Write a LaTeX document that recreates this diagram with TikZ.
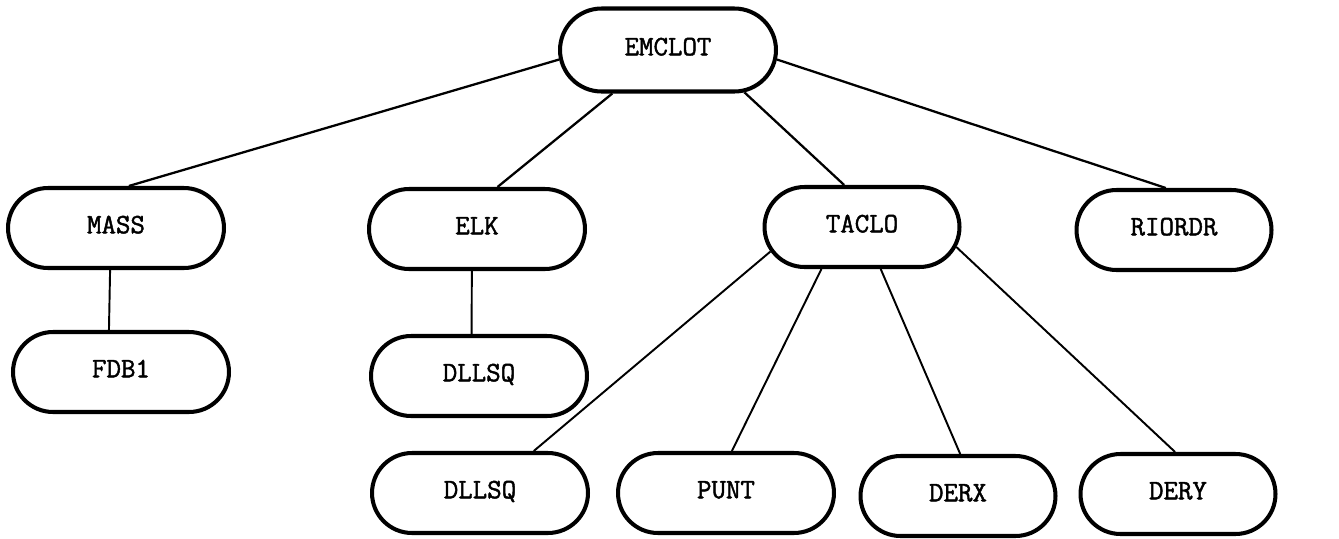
\documentclass[tikz,border=0pt]{standalone}
\usepackage{fontspec}
\setmonofont{Latin Modern Mono}[FakeBold=1.6]
\usetikzlibrary{shapes.misc}

\begin{document}
\begin{tikzpicture}[x=.02cm,y=-.02cm,font=\ttfamily\fontsize{16}{18}\selectfont,
  unit/.style={rounded rectangle,draw,line width=2.3pt,minimum width=4.32cm,
    minimum height=1.6cm,inner sep=0pt,text height=.6em,text depth=0pt},
  narrow/.style={minimum width=3.9cm},
  call/.style={line width=1.1pt}]
\path[use as bounding box] (0,0) rectangle (1339,538);
% main program
\node[unit,minimum height=1.66cm] (emclot) at (668,50) {EMCLOT};
% routines called from EMCLOT
\node[unit] (mass) at (116,228) {MASS};
\node[unit] (elk) at (477,229) {ELK};
\node[unit,narrow] (taclo) at (862,227) {TACLO};
\node[unit,narrow] (riordr) at (1174,230) {RIORDR};
% lower level routines
\node[unit] (fdb) at (121,372) {FDB1};
\node[unit] (dllsqa) at (479,376) {DLLSQ};
\node[unit] (dllsqb) at (480,493) {DLLSQ};
\node[unit] (punt) at (726,493) {PUNT};
\node[unit,narrow] (derx) at (958,496) {DERX};
\node[unit,narrow] (dery) at (1178,494) {DERY};
% calls
\foreach \from/\to in {emclot.185/mass.73,emclot.218/elk.64,
  emclot.331/taclo.113,emclot.355/riordr.101}
  \draw[call,line width=1.3pt] (\from) -- (\to);
\foreach \from/\to in {mass.262/fdb.106,elk.263/dllsqa.100,
  taclo.195/dllsqb.38,taclo.226/punt.82,taclo.294/derx.87,taclo.348/dery.94}
  \draw[call] (\from) -- (\to);
\end{tikzpicture}
\end{document}
